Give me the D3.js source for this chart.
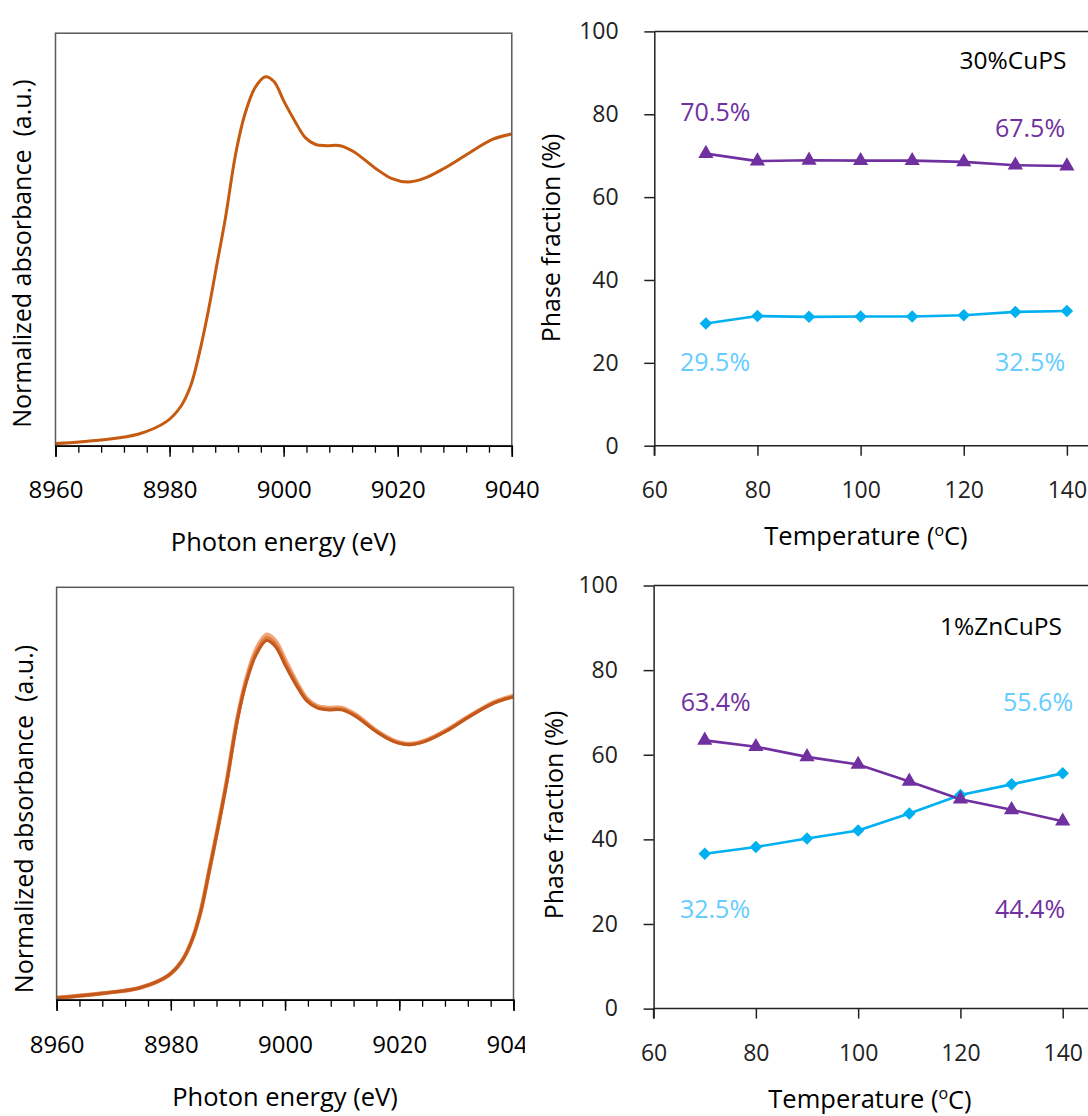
<!DOCTYPE html>
<html><head><meta charset="utf-8">
<script src="https://cdn.jsdelivr.net/npm/d3@7"></script>
<style>
body{margin:0;background:#fff}
svg{display:block}
text{font-family:"Open Sans","DejaVu Sans",sans-serif}
</style>
</head><body>
<svg id="c" width="1088" height="1116"></svg>
<script>
// ---------- data ----------
const energies = [8960, 8967.9, 8974.6, 8979.5, 8981.9, 8983.7, 8985.2, 8986.8, 8988.3, 8989.8,
  8991.6, 8993.2, 8995.0, 8996.8, 8998.3, 9000.1, 9002, 9003.8, 9005.6, 9007.5,
  9009.9, 9012.3, 9016, 9019, 9021.7, 9024.5, 9028.1, 9032.4, 9036.6, 9040];
const spectrumCuPS = [0.007, 0.019, 0.039, 0.081, 0.129, 0.200, 0.307, 0.450, 0.605, 0.760,
  0.974, 1.105, 1.194, 1.230, 1.214, 1.146, 1.081, 1.027, 1.004, 1.000,
  1.000, 0.980, 0.926, 0.890, 0.879, 0.890, 0.924, 0.974, 1.021, 1.039];
const spectrumZnHigh = [0.006, 0.021, 0.040, 0.080, 0.128, 0.198, 0.293, 0.439, 0.581, 0.731,
  0.934, 1.069, 1.170, 1.217, 1.197, 1.130, 1.060, 1.004, 0.979, 0.973,
  0.973, 0.951, 0.897, 0.864, 0.853, 0.864, 0.897, 0.947, 0.992, 1.013];
const spectrumZnMid = [0.006, 0.021, 0.040, 0.080, 0.128, 0.198, 0.292, 0.437, 0.578, 0.728,
  0.930, 1.062, 1.160, 1.206, 1.186, 1.120, 1.053, 1.000, 0.976, 0.969,
  0.969, 0.948, 0.895, 0.862, 0.851, 0.862, 0.895, 0.946, 0.990, 1.011];
const spectrumZnLow = [0.006, 0.021, 0.040, 0.080, 0.128, 0.198, 0.291, 0.436, 0.576, 0.725,
  0.927, 1.057, 1.152, 1.197, 1.177, 1.112, 1.047, 0.996, 0.973, 0.966,
  0.966, 0.945, 0.893, 0.861, 0.850, 0.861, 0.894, 0.945, 0.989, 1.009];
const energyTicks = [8960, 8980, 9000, 9020, 9040];
const energyMinorStep = 4;

const temperatures = [70, 80, 90, 100, 110, 120, 130, 140];
const cupsPurple = [70.5, 68.7, 68.9, 68.8, 68.8, 68.5, 67.7, 67.5];
const cupsBlue   = [29.5, 31.3, 31.1, 31.2, 31.2, 31.5, 32.3, 32.5];
const zncupsPurple = [63.4, 61.9, 59.5, 57.7, 53.7, 49.5, 47.0, 44.3];
const zncupsBlue   = [36.6, 38.2, 40.2, 42.1, 46.1, 50.5, 53.0, 55.6];
const tempTicks = [60, 80, 100, 120, 140];
const fracTicks = [0, 20, 40, 60, 80, 100];

const panelTitles = ["30%CuPS", "1%ZnCuPS"];
const cupsLabels = ["70.5%", "67.5%", "29.5%", "32.5%"];
const zncupsLabels = ["63.4%", "55.6%", "32.5%", "44.4%"];

// ---------- styles ----------
const PURPLE = "#7030A0", BLUE = "#00B0F0", LIGHTBLUE = "#66CCFF";
const svg = d3.select("#c");

function spectrumPanel(box, seriesList, lab) {
  const g = svg.append("g");
  const x = d3.scaleLinear([8960, 9040], [box.l, box.r]);
  const y = d3.scaleLinear([0, (box.b - box.t) / 300], [box.b, box.t]);
  const line = d3.line().x((d, i) => x(energies[i])).y(d => y(d)).curve(d3.curveCatmullRom.alpha(0.5));
  seriesList.forEach(s => {
    g.append("path").attr("d", line(s.values)).attr("fill", "none")
      .attr("stroke", s.color).attr("stroke-width", s.width)
      .attr("stroke-linejoin", "round");
  });
  g.append("rect").attr("x", box.l).attr("y", box.t).attr("width", box.r - box.l).attr("height", box.b - box.t)
    .attr("fill", "none").attr("stroke", "#595959").attr("stroke-width", 1.5);
  const minor = g.append("g").attr("transform", `translate(0,${box.b})`)
    .call(d3.axisBottom(x).tickValues(d3.range(8960, 9040.1, energyMinorStep)).tickSize(7).tickFormat(""));
  minor.select(".domain").remove();
  minor.selectAll("line").attr("stroke", "#000").attr("stroke-width", 1.3);
  const major = g.append("g").attr("transform", `translate(0,${box.b})`)
    .call(d3.axisBottom(x).tickValues(energyTicks).tickSize(11).tickPadding(lab.pad).tickFormat(d3.format("d")));
  if (lab.clipRight) {
    const clipId = "clip" + Math.round(box.t);
    svg.append("clipPath").attr("id", clipId).append("rect")
      .attr("x", 0).attr("y", -5).attr("width", lab.clipRight).attr("height", 90);
    major.attr("clip-path", `url(#${clipId})`);
  }
  major.select(".domain").attr("stroke", "#000").attr("stroke-width", 1.5);
  major.selectAll("line").attr("stroke", "#000").attr("stroke-width", 1.5);
  major.selectAll("text").attr("font-size", 24).attr("fill", "#000").style("font-family", '"Open Sans",sans-serif');
  g.append("text").attr("x", lab.xt[0]).attr("y", lab.xt[1]).attr("dy", "0.35em")
    .attr("text-anchor", "middle").attr("font-size", 25.5).attr("fill", "#000").text("Photon energy (eV)");
  g.append("text").attr("transform", `translate(${lab.yt[0]},${lab.yt[1]}) rotate(-90)`).attr("dy", "0.35em")
    .attr("text-anchor", "middle").attr("font-size", 25).attr("fill", "#000")
    .attr("xml:space", "preserve").text("Normalized absorbance  (a.u.)");
}

function fractionPanel(box, purple, blue, title, labels, lab) {
  const g = svg.append("g");
  const x = d3.scaleLinear([60, 140], [box.l, box.x140]);
  const y = d3.scaleLinear([0, 100], [box.b, box.t]);
  g.append("line").attr("x1", box.l).attr("x2", x(155)).attr("y1", box.t).attr("y2", box.t)
    .attr("stroke", "#222").attr("stroke-width", 1.5);
  const xa = g.append("g").attr("transform", `translate(0,${box.b})`)
    .call(d3.axisBottom(x).tickValues(tempTicks).tickSize(10).tickPadding(25.7).tickSizeOuter(0));
  xa.select(".domain").attr("d", `M${box.l},0H${x(155)}`);
  const ya = g.append("g").attr("transform", `translate(${box.l},0)`)
    .call(d3.axisLeft(y).tickValues(fracTicks).tickSize(10).tickPadding(25.7).tickSizeOuter(0));
  [xa, ya].forEach(a => {
    a.selectAll("path,line").attr("stroke", "#222").attr("stroke-width", 1.5);
    a.selectAll("text").attr("font-size", 23).attr("fill", "#222").style("font-family", '"Open Sans",sans-serif');
  });
  g.append("line").attr("x1", box.l).attr("x2", box.l).attr("y1", box.b).attr("y2", box.b + 10)
    .attr("stroke", "#222").attr("stroke-width", 1.5);

  const line = d3.line().x((d, i) => x(temperatures[i])).y(d => y(d));
  g.append("path").attr("d", line(blue)).attr("fill", "none").attr("stroke", BLUE).attr("stroke-width", 2.6);
  g.append("path").attr("d", line(purple)).attr("fill", "none").attr("stroke", PURPLE).attr("stroke-width", 2.6);
  const dia = d3.symbol().type(d3.symbolSquare).size(78);
  g.selectAll(".dia").data(blue).join("path").attr("d", dia)
    .attr("transform", (d, i) => `translate(${x(temperatures[i])},${y(d)}) rotate(45)`).attr("fill", BLUE);
  const tri = d3.symbol().type(d3.symbolTriangle).size(100);
  g.selectAll(".tri").data(purple).join("path").attr("d", tri)
    .attr("transform", (d, i) => `translate(${x(temperatures[i])},${y(d)})`).attr("fill", PURPLE);

  g.append("text").attr("x", lab.title[0]).attr("y", lab.title[1]).attr("dy", "0.35em")
    .attr("text-anchor", "middle").attr("font-size", 24.5).attr("fill", "#000").text(title);
  labels.forEach((t, i) => {
    g.append("text").attr("x", lab.ann[i][0]).attr("y", lab.ann[i][1]).attr("dy", "0.35em")
      .attr("text-anchor", "middle").attr("font-size", 25).attr("fill", lab.annColors[i]).text(t);
  });
  const tt = g.append("text").attr("x", lab.xt[0]).attr("y", lab.xt[1]).attr("dy", "0.35em")
    .attr("text-anchor", "middle").attr("font-size", 25.5).attr("fill", "#000");
  tt.append("tspan").text("Temperature (");
  tt.append("tspan").attr("font-size", 16).attr("dy", "-0.55em").text("o");
  tt.append("tspan").attr("dy", "0.37em").text("C)");
  g.append("text").attr("transform", `translate(${lab.yt[0]},${lab.yt[1]}) rotate(-90)`).attr("dy", "0.35em")
    .attr("text-anchor", "middle").attr("font-size", 25).attr("fill", "#000").text("Phase fraction (%)");
}

spectrumPanel({l: 55.5, r: 511.8, t: 33.2, b: 445.7},
  [{values: spectrumCuPS, color: "#C55A11", width: 3}],
  {pad: 24, xt: [283.6, 542], yt: [22.6, 253.6]});

spectrumPanel({l: 56.6, r: 513.5, t: 587.3, b: 999.7},
  [{values: spectrumZnHigh, color: "#F2A67C", width: 4.2},
   {values: spectrumZnMid, color: "#E07D3E", width: 3.6},
   {values: spectrumZnLow, color: "#C2581B", width: 3}],
  {pad: 25, xt: [285, 1097], yt: [24.3, 819], clipRight: 525});

fractionPanel({l: 654.3, x140: 1066.9, t: 31.4, b: 445.7}, cupsPurple, cupsBlue, panelTitles[0], cupsLabels,
  {title: [1013, 60.7], ann: [[715.4, 112.5], [1030, 128.6], [715, 362.5], [1030, 362.5]],
   annColors: [PURPLE, PURPLE, LIGHTBLUE, LIGHTBLUE], xt: [866, 535.7], yt: [551, 238]});

fractionPanel({l: 653.6, x140: 1062.7, t: 585.5, b: 1008.6}, zncupsPurple, zncupsBlue, panelTitles[1], zncupsLabels,
  {title: [1001, 626.3], ann: [[715.7, 701.8], [1038, 701.8], [715, 909.3], [1030, 909.3]],
   annColors: [PURPLE, LIGHTBLUE, LIGHTBLUE, PURPLE], xt: [870, 1099], yt: [554.4, 815]});
</script>
</body></html>
